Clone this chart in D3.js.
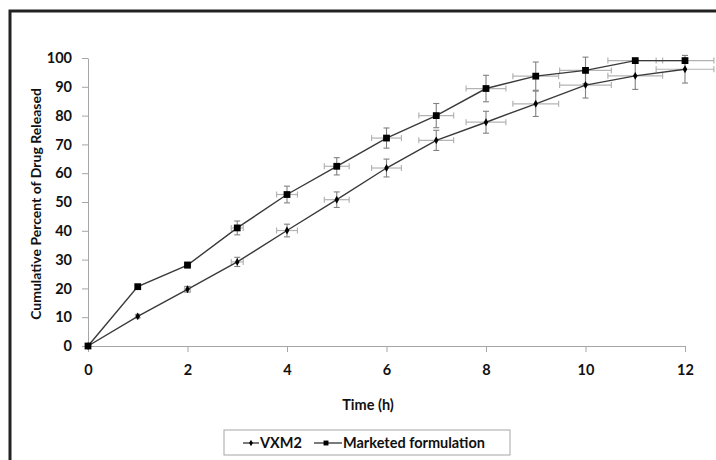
<!DOCTYPE html>
<html>
<head>
<meta charset="utf-8">
<script src="https://cdn.jsdelivr.net/npm/d3@7"></script>
<style>
  body { margin: 0; background: #fff; }
  text { font-family: Lato, "Open Sans", sans-serif; font-weight: bold; fill: #111; }
</style>
</head>
<body>
<div id="chart"></div>
<script>
const time = [0, 1, 2, 3, 4, 5, 6, 7, 8, 9, 10, 11, 12];
const vxm2 = [0, 10.3, 19.7, 29.2, 40.1, 50.8, 61.8, 71.4, 77.7, 84.1, 90.6, 93.8, 96.1];
const vxm2ErrY = [0, 0.5, 1.0, 1.6, 2.2, 2.7, 3.1, 3.5, 3.8, 4.4, 4.5, 4.7, 4.8];
const marketed = [0, 20.6, 28.1, 41.0, 52.6, 62.4, 72.2, 80.0, 89.4, 93.7, 95.7, 99.1, 99.1];
const marketedErrY = [0, 0.7, 1.0, 2.4, 2.9, 3.0, 3.5, 4.2, 4.6, 4.9, 4.6, 0.4, 0.4];
const errX = [0, 0.03, 0.06, 0.12, 0.21, 0.25, 0.3, 0.35, 0.4, 0.46, 0.52, 0.55, 0.58];
const xTicks = [0, 2, 4, 6, 8, 10, 12];
const yTicks = [0, 10, 20, 30, 40, 50, 60, 70, 80, 90, 100];
const seriesNames = ["VXM2", "Marketed formulation"];

const width = 716, height = 460;
const margin = {top: 58, bottom: 114, left: 88, right: 31};

const svg = d3.select("#chart").append("svg")
  .attr("width", width).attr("height", height);

// outer frame
svg.append("rect")
  .attr("x", 10).attr("y", 11).attr("width", 720).attr("height", 470)
  .attr("fill", "none").attr("stroke", "#222").attr("stroke-width", 3);

const x = d3.scaleLinear().domain([0, 12]).range([margin.left, width - margin.right]);
const y = d3.scaleLinear().domain([0, 100]).range([height - margin.bottom, margin.top]);

const gx = svg.append("g")
  .attr("transform", `translate(0,${height - margin.bottom})`)
  .call(d3.axisBottom(x).tickValues(xTicks).tickSize(6).tickPadding(13).tickSizeOuter(0));
const gy = svg.append("g")
  .attr("transform", `translate(${margin.left},0)`)
  .call(d3.axisLeft(y).tickValues(yTicks).tickSize(6).tickPadding(10).tickSizeOuter(0));
[gx, gy].forEach(g => {
  g.selectAll("path, line").attr("stroke", "#a6a6a6");
  g.selectAll("text").attr("font-size", 14.5).attr("font-family", "Lato, sans-serif")
    .attr("font-weight", "bold").attr("fill", "#111");
});

// axis titles
svg.append("text").attr("x", 368).attr("y", 410).attr("text-anchor", "middle")
  .attr("font-size", 14.5).text("Time (h)");
svg.append("text").attr("transform", "translate(41,204) rotate(-90)")
  .attr("text-anchor", "middle").attr("font-size", 14)
  .text("Cumulative Percent of Drug Released");

const series = [
  {name: seriesNames[0], values: vxm2, errY: vxm2ErrY, shape: "diamond"},
  {name: seriesNames[1], values: marketed, errY: marketedErrY, shape: "square"}
];

const cap = 3;
series.forEach(s => {
  const pts = time.map((t, i) => ({t, v: s.values[i], ey: s.errY[i], ex: errX[i]}));
  const eb = svg.append("g");
  // horizontal error bars
  pts.filter(d => d.ex > 0).forEach(d => {
    const g = eb.append("g").attr("stroke", "#b3b3b3").attr("stroke-width", 1.2);
    g.append("line").attr("x1", x(d.t - d.ex)).attr("x2", x(d.t + d.ex)).attr("y1", y(d.v)).attr("y2", y(d.v));
    g.append("line").attr("x1", x(d.t - d.ex)).attr("x2", x(d.t - d.ex)).attr("y1", y(d.v) - cap).attr("y2", y(d.v) + cap);
    g.append("line").attr("x1", x(d.t + d.ex)).attr("x2", x(d.t + d.ex)).attr("y1", y(d.v) - cap).attr("y2", y(d.v) + cap);
  });
  // vertical error bars
  pts.filter(d => d.ey > 0).forEach(d => {
    const g = eb.append("g").attr("stroke", "#808080").attr("stroke-width", 1.1);
    g.append("line").attr("x1", x(d.t)).attr("x2", x(d.t)).attr("y1", y(d.v - d.ey)).attr("y2", y(d.v + d.ey));
    g.append("line").attr("x1", x(d.t) - cap).attr("x2", x(d.t) + cap).attr("y1", y(d.v - d.ey)).attr("y2", y(d.v - d.ey));
    g.append("line").attr("x1", x(d.t) - cap).attr("x2", x(d.t) + cap).attr("y1", y(d.v + d.ey)).attr("y2", y(d.v + d.ey));
  });
  s.pts = pts;
});

series.forEach(s => {
  svg.append("path")
    .datum(s.pts)
    .attr("fill", "none").attr("stroke", "#3a3a3a").attr("stroke-width", 1.4)
    .attr("d", d3.line().x(d => x(d.t)).y(d => y(d.v)));
});

const symDiamond = d3.symbol().type(d3.symbolDiamond).size(18);
const symSquare = d3.symbol().type(d3.symbolSquare).size(46);
series.forEach(s => {
  svg.append("g").selectAll("path")
    .data(s.pts)
    .join("path")
    .attr("transform", d => `translate(${x(d.t)},${y(d.v)})`)
    .attr("d", s.shape === "square" ? symSquare() : symDiamond())
    .attr("fill", "#000");
});

// legend
const legend = svg.append("g");
legend.append("rect").attr("x", 224).attr("y", 430).attr("width", 286).attr("height", 25)
  .attr("fill", "#fff").attr("stroke", "#a6a6a6");
const items = [
  {name: seriesNames[0], x0: 243, tx: 260, shape: "diamond"},
  {name: seriesNames[1], x0: 314, tx: 343, shape: "square"}
];
items.forEach(it => {
  legend.append("line").attr("x1", it.x0).attr("x2", it.x0 + (it.shape === "square" ? 28 : 16))
    .attr("y1", 443).attr("y2", 443).attr("stroke", "#333").attr("stroke-width", 1.3);
  legend.append("path")
    .attr("transform", `translate(${it.x0 + (it.shape === "square" ? 12 : 8)},443)`)
    .attr("d", it.shape === "square" ? d3.symbol().type(d3.symbolSquare).size(24)() : d3.symbol().type(d3.symbolDiamond).size(12)())
    .attr("fill", "#000");
  legend.append("text").attr("x", it.tx).attr("y", 448).attr("font-size", 14.5).text(it.name);
});
</script>
</body>
</html>
